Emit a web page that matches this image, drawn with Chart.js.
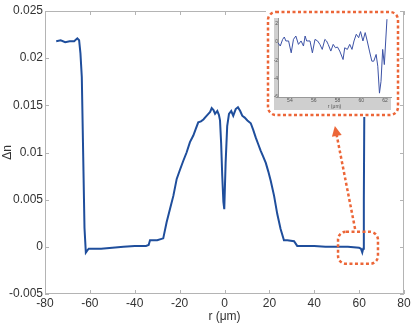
<!DOCTYPE html>
<html>
<head>
<meta charset="utf-8">
<script src="https://cdn.jsdelivr.net/npm/chart.js@4.4.1/dist/chart.umd.min.js"></script>
<style>
  body { margin: 0; background: #fff; }
  #wrap { position: relative; width: 415px; height: 324px; }
  #inset { position: absolute; left: 266px; top: 10px; }
</style>
</head>
<body>
<div id="wrap">
  <canvas id="main" width="415" height="324"></canvas>
  <canvas id="inset" width="134" height="107"></canvas>
</div>
<script>
// main profile: r (um) and delta n
const r = [-75, -73, -71, -69, -67, -65.6, -64.8, -64.2, -63.6, -63.0, -62.4, -61.8, -61.2, -60.5,
  -55, -50, -45, -40, -35, -33.8, -33.2, -30, -27.3, -25.8, -24.3, -22.8, -21.3, -19.8, -18.4,
  -16.9, -15.4, -13.9, -12.8, -11.7, -10.5, -9.4, -8.3, -7.2, -6.4, -5.7, -4.9, -4.2, -3.2,
  -2.5, -2.0, -1.5, -1.0, -0.5, -0.1, 0.5, 1.2, 2.0, 3.0, 3.9, 5.0, 6.0, 7.0, 7.9, 9.0, 10.2,
  11.7, 12.8, 13.9, 15.0, 16.1, 17.2, 18.4, 19.5, 20.6, 22.1, 23.5, 25.0, 26.5, 28, 31.0,
  32.4, 34, 40, 45, 50, 55, 60, 60.8, 61.4, 61.8, 62.1, 62.3, 62.5, 63, 68, 75];
const dn = [0.0218, 0.0219, 0.0217, 0.0218, 0.0218, 0.0221, 0.0219, 0.0205, 0.018, 0.010, 0.002, -0.0006, -0.0004, -0.0002,
  -0.0002, -0.0001, 0.0000, 0.0001, 0.0001, 0.0002, 0.0007, 0.0007, 0.0009, 0.0026, 0.0040, 0.0054, 0.0072, 0.0082, 0.0091,
  0.0100, 0.0111, 0.0118, 0.0125, 0.0132, 0.0133, 0.0135, 0.0138, 0.0141, 0.0143, 0.0147, 0.0145, 0.0141, 0.0144,
  0.0140, 0.0134, 0.0110, 0.0075, 0.0048, 0.0040, 0.0089, 0.0128, 0.0141, 0.0144, 0.0139, 0.0146, 0.0148, 0.0144, 0.0139, 0.0137, 0.0134,
  0.0131, 0.0124, 0.0116, 0.0109, 0.0102, 0.0096, 0.0089, 0.0080, 0.0070, 0.0054, 0.0035, 0.0019, 0.0007, 0.0007, 0.0006,
  0.0001, 0.0001, 0.0001, 0.0000, 0.0000, 0.0000, -0.0001, -0.0002, -0.0006, -0.0002, 0.005, 0.014, 0.020, 0.0218, 0.0218, 0.0218];

const xTicks = [-80, -60, -40, -20, 0, 20, 40, 60, 80];
const yTicks = [-0.005, 0, 0.005, 0.01, 0.015, 0.02, 0.025];

// zoomed view near the right edge
const insetR = [53.00, 53.19, 53.39, 53.53, 53.66, 53.89, 54.11, 54.30, 54.50, 54.72, 54.94, 55.14, 55.28,
  55.41, 55.69, 55.89, 56.11, 56.33, 56.52, 56.72, 56.94, 57.08, 57.22, 57.44, 57.64, 57.83, 58.00,
  58.19, 58.47, 58.61, 58.83, 59.03, 59.22, 59.39, 59.58, 59.78, 59.94, 60.14, 60.33, 60.50, 60.69,
  60.89, 61.05, 61.25, 61.39, 61.53, 61.66, 61.80, 61.94, 62.16];
const insetDn = [-0.09, -0.45, 0.27, 0.53, 0.10, 0.10, -1.19, 0.27, 0.64, -0.27, 0.10, -0.45, 0.64,
  0.10, 0.10, -1.19, 0.27, 0.10, -0.27, -0.82, 0.27, 0.10, -0.27, -1.0, -0.27, -0.64, -0.56,
  -1.0, -1.92, -0.64, -0.82, -0.27, -0.82, 0.10, 0.83, 0.46, 1.12, 0.10, 1.01, 0.10, -1.0,
  -2.1, -2.1, -1.37, -2.65, -5.58, -4.3, -0.82, -2.47, 2.47];
const insetXTicks = [54, 56, 58, 60, 62];
const insetYTicks = [-6, -4, -2, 0, 2];

Chart.defaults.font.family = "'Liberation Sans', Arial, sans-serif";
Chart.defaults.color = "#333";

const orange = "#ec6638";

function roundBox(ctx, x, y, w, h, rad) {
  ctx.beginPath();
  ctx.roundRect(x, y, w, h, rad);
  ctx.stroke();
}

// frame with inward ticks, plus the zoom marker and arrow
const framePlugin = {
  id: "frame",
  afterDraw(chart) {
    const { ctx, chartArea: a, scales: { x, y } } = chart;
    ctx.save();
    ctx.strokeStyle = "#b4b4b4";
    ctx.lineWidth = 1;
    ctx.strokeRect(a.left + 0.5, a.top + 0.5, a.right - a.left - 1, a.bottom - a.top - 1);
    ctx.beginPath();
    xTicks.forEach(v => {
      const px = Math.round(x.getPixelForValue(v)) + 0.5;
      ctx.moveTo(px, a.bottom); ctx.lineTo(px, a.bottom - 4);
      ctx.moveTo(px, a.top); ctx.lineTo(px, a.top + 4);
    });
    yTicks.forEach(v => {
      const py = Math.round(y.getPixelForValue(v)) + 0.5;
      ctx.moveTo(a.left, py); ctx.lineTo(a.left + 4, py);
      ctx.moveTo(a.right, py); ctx.lineTo(a.right - 4, py);
    });
    ctx.stroke();

    // zoom marker
    ctx.strokeStyle = orange;
    ctx.lineWidth = 2.5;
    ctx.setLineDash([3, 2.5]);
    const bx0 = x.getPixelForValue(50.6), bx1 = x.getPixelForValue(68.4);
    const by0 = y.getPixelForValue(0.0016), by1 = y.getPixelForValue(-0.0018);
    roundBox(ctx, bx0, by0, bx1 - bx0, by1 - by0, 8);

    // arrow to inset
    const tx = x.getPixelForValue(58.2), ty = y.getPixelForValue(0.0019);
    const hx = x.getPixelForValue(49.2), hy = y.getPixelForValue(0.0128);
    const ang = Math.atan2(hy - ty, hx - tx);
    ctx.beginPath();
    ctx.moveTo(tx, ty);
    ctx.lineTo(hx - 8 * Math.cos(ang), hy - 8 * Math.sin(ang));
    ctx.stroke();
    ctx.setLineDash([]);
    ctx.fillStyle = orange;
    ctx.beginPath();
    ctx.moveTo(hx, hy);
    ctx.lineTo(hx - 10 * Math.cos(ang) + 5 * Math.sin(ang), hy - 10 * Math.sin(ang) - 5 * Math.cos(ang));
    ctx.lineTo(hx - 10 * Math.cos(ang) - 5 * Math.sin(ang), hy - 10 * Math.sin(ang) + 5 * Math.cos(ang));
    ctx.closePath();
    ctx.fill();
    ctx.restore();
  }
};

new Chart(document.getElementById("main"), {
  type: "line",
  data: {
    datasets: [{
      data: r.map((v, i) => ({ x: v, y: dn[i] })),
      borderColor: "#1f4e9c",
      borderWidth: 2,
      pointRadius: 0,
      tension: 0
    }]
  },
  options: {
    responsive: false,
    animation: false,
    devicePixelRatio: 1,
    layout: { padding: { top: 11, right: 11, left: 0, bottom: 0 } },
    plugins: { legend: { display: false }, tooltip: { enabled: false } },
    scales: {
      x: {
        type: "linear",
        min: -80,
        max: 80,
        afterBuildTicks: s => { s.ticks = xTicks.map(v => ({ value: v })); },
        afterFit: s => { s.height = 30; },
        grid: { display: false, drawTicks: false },
        border: { display: false },
        ticks: { font: { size: 12 }, padding: 2, maxRotation: 0 },
        title: { display: true, text: "r (\u03bcm)", font: { size: 12 }, padding: { top: 0, bottom: 0 } }
      },
      y: {
        min: -0.005,
        max: 0.025,
        afterBuildTicks: s => { s.ticks = yTicks.map(v => ({ value: v })); },
        afterFit: s => { s.width = 45; },
        grid: { display: false, drawTicks: false },
        border: { display: false },
        ticks: { font: { size: 12 }, padding: 2, callback: v => parseFloat(v.toFixed(3)) },
        title: { display: true, text: "\u0394n", font: { size: 12 }, padding: { top: 0, bottom: 0 } }
      }
    }
  },
  plugins: [framePlugin]
});

// inset: grey axes band, white plot, dashed rounded border
const insetPlugin = {
  id: "insetFrame",
  beforeDraw(chart) {
    const { ctx, chartArea: a, scales: { x, y } } = chart;
    ctx.save();
    ctx.fillStyle = "#fff";
    ctx.fillRect(0, 0, chart.width, chart.height);
    ctx.fillStyle = "#cfcfcf";
    ctx.fillRect(y.left, a.top, a.right - y.left, x.bottom - a.top);
    ctx.fillStyle = "#fff";
    ctx.fillRect(a.left, a.top, a.right - a.left, a.bottom - a.top);
    ctx.restore();
  },
  afterDraw(chart) {
    const { ctx } = chart;
    ctx.save();
    ctx.strokeStyle = orange;
    ctx.lineWidth = 2.5;
    ctx.setLineDash([3, 2.5]);
    roundBox(ctx, 2, 2, 130, 103, 8);
    ctx.restore();
  }
};

new Chart(document.getElementById("inset"), {
  type: "line",
  data: {
    datasets: [{
      data: insetR.map((v, i) => ({ x: v, y: insetDn[i] })),
      borderColor: "#3c52a6",
      borderWidth: 1,
      pointRadius: 0,
      tension: 0
    }]
  },
  options: {
    responsive: false,
    animation: false,
    devicePixelRatio: 1,
    layout: { padding: { top: 8, right: 9, left: 8, bottom: 7 } },
    plugins: { legend: { display: false }, tooltip: { enabled: false } },
    scales: {
      x: {
        type: "linear",
        min: 53,
        max: 62.5,
        afterBuildTicks: s => { s.ticks = insetXTicks.map(v => ({ value: v })); },
        afterFit: s => { s.height = 13; },
        grid: { display: false, drawTicks: false },
        border: { color: "#999" },
        ticks: { font: { size: 5 }, color: "#555", padding: 1, maxRotation: 0 },
        title: { display: true, text: "r (\u03bcm)", font: { size: 5 }, color: "#555", padding: 0 }
      },
      y: {
        min: -6,
        max: 2.6,
        afterBuildTicks: s => { s.ticks = insetYTicks.map(v => ({ value: v })); },
        afterFit: s => { s.width = 4; },
        grid: { display: false, drawTicks: false },
        border: { color: "#999" },
        ticks: { font: { size: 5 }, color: "#555", padding: 0 }
      }
    }
  },
  plugins: [insetPlugin]
});
</script>
</body>
</html>
